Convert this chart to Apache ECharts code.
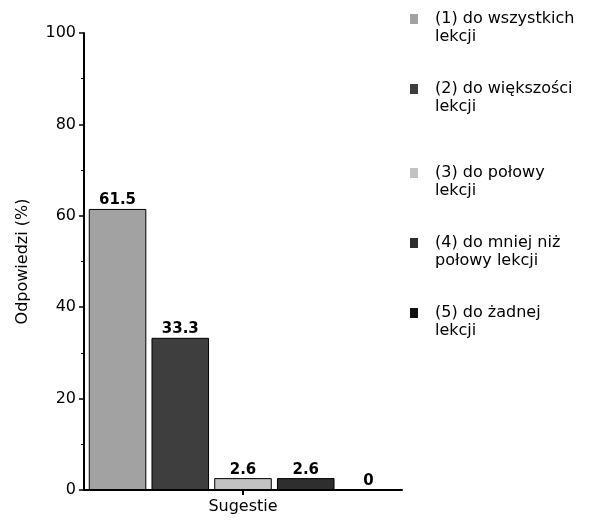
<!DOCTYPE html>
<html>
<head>
<meta charset="utf-8">
<script src="https://cdn.jsdelivr.net/npm/echarts@6/dist/echarts.min.js"></script>
<style>html,body{margin:0;padding:0;background:#fff;}#c{width:612px;height:522px;}</style>
</head>
<body>
<div id="c"></div>
<script>
var categories = ['Sugestie'];
var seriesNames = ['(1) do wszystkich lekcji', '(2) do większości lekcji', '(3) do połowy lekcji', '(4) do mniej niż połowy lekcji', '(5) do żadnej lekcji'];
var legendLines = [
  ['(1) do wszystkich', 'lekcji'],
  ['(2) do większości', 'lekcji'],
  ['(3) do połowy', 'lekcji'],
  ['(4) do mniej niż', 'połowy lekcji'],
  ['(5) do żadnej', 'lekcji']
];
var values = [61.5, 33.3, 2.6, 2.6, 0];
var yTicks = [0, 20, 40, 60, 80, 100];

var colors = ['#a2a2a2', '#3e3e3e', '#c2c2c2', '#2e2e2e', '#111111'];
var legendTops = [-8, 62, 146, 216, 286];

var font = 'DejaVu Sans';
var chart = echarts.init(document.getElementById('c'));

var series = seriesNames.map(function (n, i) {
  return {
    name: n,
    type: 'bar',
    data: [values[i]],
    barGap: '9%',
    barCategoryGap: '3%',
    itemStyle: { color: colors[i], borderColor: '#000', borderWidth: 1 },
    label: {
      show: true, position: 'top', distance: 1,
      fontFamily: font, fontWeight: 'bold', fontSize: 15, color: '#000',
      formatter: function (p) { return String(p.value); }
    }
  };
});

var legends = seriesNames.map(function (n, i) {
  return {
    data: [n],
    left: 410,
    top: legendTops[i],
    padding: 0,
    itemWidth: 8,
    itemHeight: 10,
    icon: 'rect',
    selectedMode: false,
    itemStyle: { borderWidth: 0 },
    formatter: function () { return ' \n' + legendLines[i].join('\n'); },
    textStyle: { fontFamily: font, fontSize: 16, color: '#000', lineHeight: 18, padding: [0, 0, 0, 12] }
  };
});

chart.setOption({
  animation: false,
  backgroundColor: '#fff',
  color: colors,
  legend: legends,
  grid: { left: 84, right: 210, top: 33, bottom: 32, containLabel: false },
  xAxis: {
    type: 'category',
    data: categories,
    axisLine: { lineStyle: { color: '#000', width: 2 } },
    axisTick: { show: true, alignWithLabel: true, length: 5, lineStyle: { color: '#000', width: 2 } },
    axisLabel: { fontFamily: font, fontSize: 16, color: '#000', margin: 9 }
  },
  yAxis: {
    type: 'value',
    min: 0, max: 100, interval: 20,
    name: 'Odpowiedzi (%)',
    nameLocation: 'middle',
    nameGap: 53,
    nameTextStyle: { fontFamily: font, fontSize: 16, color: '#000' },
    axisLine: { show: true, lineStyle: { color: '#000', width: 2 } },
    axisTick: { show: true, length: 5, lineStyle: { color: '#000', width: 1.5 } },
    minorTick: { show: true, splitNumber: 2, length: 3, lineStyle: { color: '#000' } },
    splitLine: { show: false },
    axisLabel: {
      fontFamily: font, fontSize: 16, color: '#000', margin: 8,
      formatter: function (v) { return yTicks.indexOf(v) >= 0 ? String(v) : ''; }
    }
  },
  series: series
});
</script>
</body>
</html>
